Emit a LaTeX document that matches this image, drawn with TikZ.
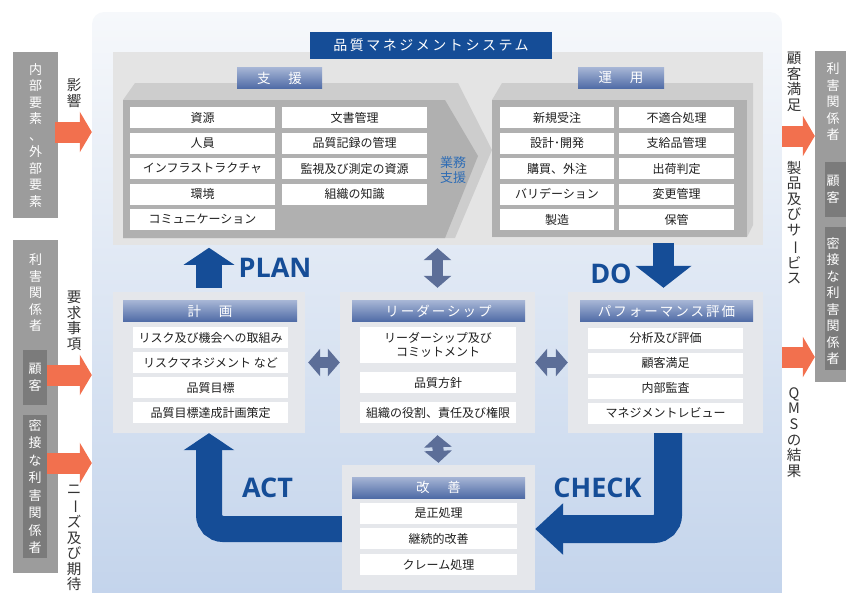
\documentclass[tikz,border=0pt]{standalone}
\usepackage{fontspec}
\setmainfont{Noto Sans CJK JP}
\newfontfamily\qmshead[LetterSpace=15]{Noto Sans CJK JP}
\newfontfamily\qmstitle[LetterSpace=18]{Noto Sans CJK JP}
\newfontfamily\qmslatin{Open Sans}
\usetikzlibrary{arrows.meta,positioning}
\definecolor{qmsNavy}{HTML}{154D97}
\definecolor{qmsSlate}{HTML}{5C6E98}
\definecolor{qmsOrange}{HTML}{F2704E}
\definecolor{qmsBlueTxt}{HTML}{2F6DB5}
\definecolor{qmsGray}{HTML}{9C9C9C}
\definecolor{qmsGrayDark}{HTML}{7B7B7B}
\definecolor{qmsTop}{HTML}{E4E4E4}
\definecolor{qmsSide}{HTML}{CDCDCD}
\definecolor{qmsFront}{HTML}{B0B0B0}
\definecolor{qmsPanel}{HTML}{E5E7EB}
\definecolor{qmsHeadTop}{HTML}{A6B5D5}
\definecolor{qmsHeadBot}{HTML}{4F6BA6}
\definecolor{qmsBackTop}{HTML}{F6F8FB}
\definecolor{qmsBackBot}{HTML}{C2D3EB}
% vertical long-vowel mark for tategaki labels
\newcommand\tatebar{\rotatebox[origin=c]{-90}{ー}}
\tikzset{
  % White rows inside every block.
  qms/item/.style={
    fill=white, inner sep=0pt, minimum height=21pt, align=center,
    font=\fontsize{12}{14}\selectfont, text=black!88
  },
  % Light grey card behind a group of rows.
  qms/panel/.style={fill=qmsPanel, inner sep=0pt},
  % Shaded title bar of a card.
  qms/head/.style={
    top color=qmsHeadTop, bottom color=qmsHeadBot, inner sep=0pt,
    minimum height=21pt, text=white, font=\qmshead\fontsize{13.5}{15}\selectfont
  },
  % Stakeholder columns at the sides.
  qms/side/.style={fill=qmsGray, inner sep=0pt},
  qms/sideDark/.style={fill=qmsGrayDark, inner sep=0pt},
  qms/sideText/.style={
    align=center, inner sep=0pt, text=white, font=\fontsize{13}{16.5}\selectfont
  },
  % Vertical black labels next to the orange arrows.
  qms/vlabel/.style={
    align=center, inner sep=0pt, text=black!80, font=\fontsize{14.5}{15.6}\selectfont
  },
  % Arrows.
  qms/inflow/.style={
    -{Triangle[length=12pt,width=40pt]}, line width=21pt, draw=qmsOrange
  },
  qms/cycle/.style={
    -{Triangle[length=17pt,width=50pt]}, line width=26pt, draw=qmsNavy,
    rounded corners=14pt
  },
  qms/link/.style={
    {Triangle[length=12pt,width=27pt]}-{Triangle[length=12pt,width=27pt]},
    line width=11pt, draw=qmsSlate
  },
  qms/pdca/.style={
    font=\qmslatin\bfseries\fontsize{27}{27}\selectfont, text=qmsNavy, inner sep=0pt
  },
}
\begin{document}
\begin{tikzpicture}[x=1pt,y=-1pt,
  sup/.style={qms/item, minimum width=145pt},
  ope/.style={qms/item, minimum width=114pt},
  row/.style={qms/item, minimum width=155pt}]
  \useasboundingbox (0,0) rectangle (846,592);
  % background of the whole system
  \node[top color=qmsBackTop, bottom color=qmsBackBot, rounded corners=12pt,
        minimum width=690pt, minimum height=600pt, inner sep=0pt] (qmsP) at (437,312) {};
  \node[fill=qmsTop, minimum width=650pt, minimum height=193pt, inner sep=0pt] (topbg) at (438,148.5) {};
  \node[fill=qmsNavy, minimum width=242pt, minimum height=27pt, inner sep=0pt, text=white,
        font=\qmstitle\fontsize{14}{16}\selectfont] (title) at (431,45.5) {品質マネジメントシステム};

  % support block, drawn as a chevron
  \fill[qmsSide] (123,100) -- (135,83) -- (458,83) -- (492,150) -- (455,238) -- (123,238) -- cycle;
  \fill[qmsFront] (123,100) -- (445,100) -- (478,156) -- (445,238) -- (123,238) -- cycle;
  \node[qms/head, minimum width=85pt] (supH) at (279.5,78) {支　援};
  \node[sup] (sup1) at (202.5,117.5) {資源};
  \node[sup] (sup2) at (202.5,143)   {人員};
  \node[sup] (sup3) at (202.5,168.5) {インフラストラクチャ};
  \node[sup] (sup4) at (202.5,194)   {環境};
  \node[sup] (sup5) at (202.5,219.5) {コミュニケーション};
  \node[sup] (sup6) at (354.5,117.5) {文書管理};
  \node[sup] (sup7) at (354.5,143)   {品質記録の管理};
  \node[sup] (sup8) at (354.5,168.5) {監視及び測定の資源};
  \node[sup] (sup9) at (354.5,194)   {組織の知識};
  \node[align=center, inner sep=0pt, text=qmsBlueTxt, font=\fontsize{13}{14.5}\selectfont]
       (gyomu) at (453,170) {業務\\支援};

  % operation block
  \fill[qmsSide] (492,100) -- (502,83) -- (753,83) -- (753,225) -- (747,237) -- (492,237) -- cycle;
  \fill[qmsFront] (492,100) rectangle (747,237);
  \node[qms/head, minimum width=86pt] (opeH) at (621,78) {運　用};
  \node[ope] (ope1) at (557,117.5) {新規受注};
  \node[ope] (ope2) at (557,143)   {設計･開発};
  \node[ope] (ope3) at (557,168.5) {購買、外注};
  \node[ope] (ope4) at (557,194)   {バリデーション};
  \node[ope] (ope5) at (557,219.5) {製造};
  \node[ope, minimum width=115pt] (ope6)  at (676.5,117.5) {不適合処理};
  \node[ope, minimum width=115pt] (ope7)  at (676.5,143)   {支給品管理};
  \node[ope, minimum width=115pt] (ope8)  at (676.5,168.5) {出荷判定};
  \node[ope, minimum width=115pt] (ope9)  at (676.5,194)   {変更管理};
  \node[ope, minimum width=115pt] (ope10) at (676.5,219.5) {保管};

  % plan
  \node[qms/panel, minimum width=192pt, minimum height=141pt] (planP) at (209,362.5) {};
  \node[qms/head, minimum width=174pt] (planH) at (210,311) {計　画};
  \node[row] (pln1) at (210.5,337.5) {リスク及び機会への取組み};
  \node[row] (pln2) at (210.5,362.5) {リスクマネジメント など};
  \node[row] (pln3) at (210.5,387.5) {品質目標};
  \node[row] (pln4) at (210.5,412.5) {品質目標達成計画策定};

  % leadership
  \node[qms/panel, minimum width=195pt, minimum height=141pt] (ldrP) at (437.5,362.5) {};
  \node[qms/head, minimum width=173pt] (ldrH) at (438.5,311) {リーダーシップ};
  \node[row, minimum width=156pt, minimum height=36pt] (ldr1) at (438,345) {リーダーシップ及び\\コミットメント};
  \node[row, minimum width=156pt] (ldr2) at (438,382.5) {品質方針};
  \node[row, minimum width=156pt] (ldr3) at (438,412.5) {組織の役割、責任及び権限};

  % performance evaluation
  \node[qms/panel, minimum width=195pt, minimum height=141pt] (perfP) at (665.5,362.5) {};
  \node[qms/head, minimum width=173pt] (perfH) at (666.5,311) {パフォーマンス評価};
  \node[row] (prf1) at (665.5,338) {分析及び評価};
  \node[row] (prf2) at (665.5,363) {顧客満足};
  \node[row] (prf3) at (665.5,388) {内部監査};
  \node[row] (prf4) at (665.5,413) {マネジメントレビュー};

  % improvement
  \node[qms/panel, minimum width=193pt, minimum height=125pt] (impP) at (438.5,527.5) {};
  \node[qms/head, minimum width=173pt] (impH) at (438.5,487.5) {改　善};
  \node[row, minimum width=157pt] (imp1) at (438.5,513)   {是正処理};
  \node[row, minimum width=157pt] (imp2) at (438.5,538.5) {継続的改善};
  \node[row, minimum width=157pt] (imp3) at (438.5,564.5) {クレーム処理};

  % PDCA loop
  \coordinate (loopL) at (209,529);
  \coordinate (loopR) at (668,529);
  \draw[qms/cycle] ([yshift=4pt]planP.north) -- ([yshift=44pt]planP.north);
  \draw[qms/cycle, line width=21pt, -{Triangle[length=22pt,width=55pt]}]
       ([xshift=-2pt,yshift=49pt]perfP.north) -- ([xshift=-2pt,yshift=4pt]perfP.north);
  \draw[qms/cycle, line width=28pt, -{Triangle[length=28pt,width=50pt]}]
       (perfP.south -| loopR) -- (loopR) -- (impP.east |- loopR);
  \draw[qms/cycle] (impP.west |- loopL) -- (loopL) -- (planP.south);
  \node[qms/pdca] (plan) at (275,268)   {PLAN};
  \node[qms/pdca] (do)   at (611,274)   {DO};
  \node[qms/pdca] (chk)  at (597.5,487.5) {CHECK};
  \node[qms/pdca] (act)  at (267.5,487.5) {ACT};

  % links to leadership
  \draw[qms/link] ([yshift=-3pt]ldrP.north |- topbg.south) -- ([yshift=4pt]ldrP.north);
  \draw[qms/link] ([xshift=3pt]planP.east) -- (ldrP.west);
  \draw[qms/link] (ldrP.east) -- (perfP.west);
  \draw[qms/link] ([yshift=-2pt]ldrP.south) -- ([yshift=2pt]impP.north);

  % stakeholders on the left
  \node[qms/side, minimum width=45pt, minimum height=166pt] (inA) at (35.5,135) {};
  \node[qms/sideText] (inAt) at (35.5,135.5) {内\\部\\要\\素\\、\\外\\部\\要\\素};
  \node[qms/side, minimum width=45pt, minimum height=333pt] (inB) at (35.5,406.5) {};
  \node[qms/sideText] (inBt) at (35.5,293) {利\\害\\関\\係\\者};
  \node[qms/sideDark, minimum width=24pt, minimum height=55pt] (inC) at (35,377.5) {};
  \node[qms/sideText] (inCt) at (35,377.5) {顧\\客};
  \node[qms/sideDark, minimum width=24pt, minimum height=143pt] (inD) at (35,486.5) {};
  \node[qms/sideText, font=\fontsize{13}{17.5}\selectfont] (inDt) at (35,486.5) {密\\接\\な\\利\\害\\関\\係\\者};
  \coordinate (inE) at (47,463);
  \draw[qms/inflow] ([xshift=-3pt]inA.east |- 0,132) -- (qmsP.west |- 0,132);
  \draw[qms/inflow] ([yshift=2.5pt]inC.east) -- ([yshift=2.5pt]inC.east -| qmsP.west);
  \draw[qms/inflow] (inE) -- (inE -| qmsP.west);
  \node[qms/vlabel] (lbA) at (74,93)    {影\\響};
  \node[qms/vlabel] (lbB) at (74,321)   {要\\求\\事\\項};
  \node[qms/vlabel] (lbC) at (74,538)   {ニ\\\tatebar\\ズ\\及\\び\\期\\待};

  % stakeholders on the right
  \node[qms/side, minimum width=40pt, minimum height=331pt] (outA) at (835,216.5) {};
  \node[qms/sideText] (outAt) at (833,102) {利\\害\\関\\係\\者};
  \node[qms/sideDark, minimum width=26pt, minimum height=55pt] (outB) at (838,189.5) {};
  \node[qms/sideText] (outBt) at (833,189.5) {顧\\客};
  \node[qms/sideDark, minimum width=26pt, minimum height=143pt] (outC) at (838,298.5) {};
  \node[qms/sideText] (outCt) at (833,301) {密\\接\\な\\利\\害\\関\\係\\者};
  \coordinate (outD) at (782,136);
  \coordinate (outE) at (782,357);
  \draw[qms/inflow] (outD) -- (outD -| outA.west);
  \draw[qms/inflow] (outE) -- (outE -| outA.west);
  \node[qms/vlabel] (lbD) at (794,82)    {顧\\客\\満\\足};
  \node[qms/vlabel] (lbE) at (794,222.5) {製\\品\\及\\び\\サ\\\tatebar\\ビ\\ス};
  \node[qms/vlabel] (lbF) at (794,432.5) {Q\\M\\S\\の\\結\\果};
\end{tikzpicture}
\end{document}
